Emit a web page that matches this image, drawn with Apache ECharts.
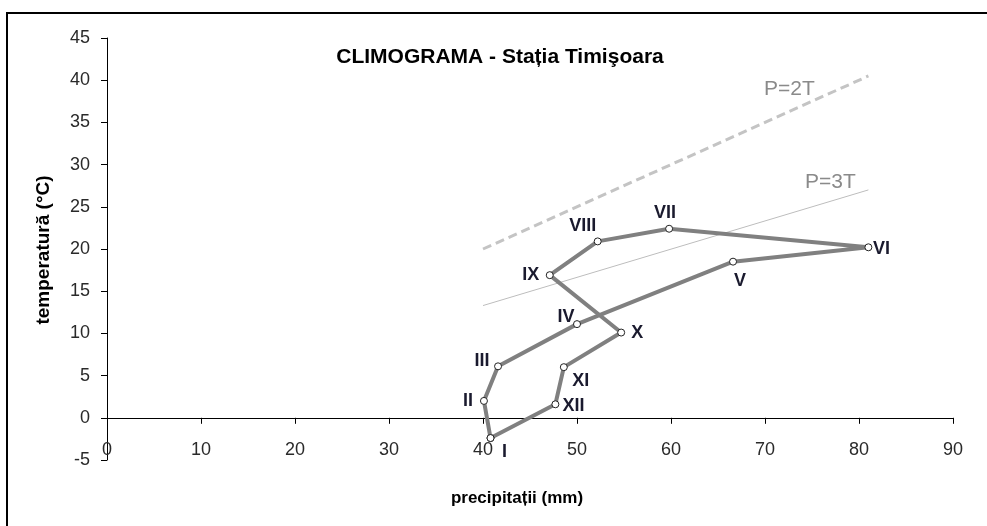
<!DOCTYPE html>
<html>
<head>
<meta charset="utf-8">
<script src="https://cdn.jsdelivr.net/npm/echarts@6/dist/echarts.min.js"></script>
<style>html,body{margin:0;padding:0;background:#fff}#c{width:987px;height:526px}</style>
</head>
<body>
<div id="c"></div>
<script>
// Data
var months = ['I','II','III','IV','V','VI','VII','VIII','IX','X','XI','XII'];
var precip = [40.8, 40.1, 41.6, 50.0, 66.6, 81.0, 59.8, 52.2, 47.1, 54.7, 48.6, 47.7];
var temp   = [-2.4, 2.0, 6.1, 11.1, 18.5, 20.2, 22.4, 20.9, 16.9, 10.1, 6.0, 1.6];
var refP   = [40, 81];
var p2tT   = [20, 40.5];
var p3tT   = [13.3, 27];
var xTicks = [0, 10, 20, 30, 40, 50, 60, 70, 80, 90];
var yTicks = [-5, 0, 5, 10, 15, 20, 25, 30, 35, 40, 45];

// label offsets (style only)
var labelOffsets = [[14,14],[-16,0],[-16,-5],[-11,-7],[7,19],[13,2],[-4,-16],[-15,-15],[-19,0],[16,0],[17,14],[18,2]];

var loop = [];
for (var i = 0; i <= months.length; i++) {
  var k = i % months.length;
  loop.push({
    value: [precip[k], temp[k]],
    label: i < months.length ? {show: true, formatter: months[k], offset: labelOffsets[k]} : {show: false}
  });
}

var chart = echarts.init(document.getElementById('c'));
var tickFont = {fontFamily: '"Liberation Sans Narrow", "Liberation Sans", Arial, sans-serif', fontSize: 18, color: '#2a2a2a'};
var refLabel = {fontFamily: '"Liberation Sans", Arial, sans-serif', fontSize: 21, color: '#8a8a8a', position: 'inside'};
chart.setOption({
  animation: false,
  title: {
    text: 'CLIMOGRAMA - Stația Timişoara',
    left: 495, top: 42, textAlign: 'center',
    textStyle: {fontFamily: '"Liberation Sans", Arial, sans-serif', fontSize: 21, fontWeight: 'bold', color: '#000'}
  },
  grid: {left: 107, right: 34, top: 38, bottom: 66, containLabel: false},
  xAxis: {
    type: 'value', min: xTicks[0], max: xTicks[xTicks.length-1], interval: 10,
    axisLine: {show: true, onZero: true, lineStyle: {color: '#000', width: 1}},
    axisTick: {show: true, length: 6, lineStyle: {color: '#000'}},
    axisLabel: Object.assign({margin: -19}, tickFont),
    splitLine: {show: false}
  },
  yAxis: {
    type: 'value', min: yTicks[0], max: yTicks[yTicks.length-1], interval: 5,
    axisLine: {show: true, onZero: false, lineStyle: {color: '#000', width: 1}},
    axisTick: {show: true, length: 6, lineStyle: {color: '#000'}},
    axisLabel: Object.assign({margin: 17}, tickFont),
    splitLine: {show: false}
  },
  graphic: [
    {type: 'rect', shape: {x: 7, y: 13, width: 1000, height: 600}, style: {fill: 'none', stroke: '#000', lineWidth: 2}, silent: true},
    {type: 'text', x: 44, y: 250, rotation: Math.PI/2, style: {text: 'temperatură (°C)', font: 'bold 19px "Liberation Sans", Arial, sans-serif', fill: '#000', textAlign: 'center', textVerticalAlign: 'middle'}},
    {type: 'text', x: 517, y: 498, style: {text: 'precipitații (mm)', font: 'bold 17px "Liberation Sans", Arial, sans-serif', fill: '#000', textAlign: 'center', textVerticalAlign: 'middle'}}
  ],
  series: [
    {
      type: 'line', name: 'P=2T',
      data: [[refP[0], p2tT[0]], {value: [refP[1], p2tT[1]], label: {show: true, formatter: 'P=2T', offset: [-79, 13]}}],
      symbol: 'circle', symbolSize: 1, showAllSymbol: true, silent: true,
      itemStyle: {color: 'rgba(0,0,0,0)'},
      lineStyle: {color: '#c4c4c4', width: 3, type: [9, 5]},
      label: refLabel
    },
    {
      type: 'line', name: 'P=3T',
      data: [[refP[0], p3tT[0]], {value: [refP[1], p3tT[1]], label: {show: true, formatter: 'P=3T', offset: [-38, -8]}}],
      symbol: 'circle', symbolSize: 1, showAllSymbol: true, silent: true,
      itemStyle: {color: 'rgba(0,0,0,0)'},
      lineStyle: {color: '#bdbdbd', width: 1},
      label: refLabel
    },
    {
      type: 'line', name: 'climograma',
      data: loop,
      symbol: 'circle', symbolSize: 7, showAllSymbol: true,
      itemStyle: {color: '#fff', borderColor: '#222', borderWidth: 1},
      lineStyle: {color: '#808080', width: 4},
      label: {position: 'inside', fontFamily: '"Liberation Sans", Arial, sans-serif', fontSize: 18, fontWeight: 'bold', color: '#1a1a2e'},
      z: 5
    }
  ]
});
</script>
</body>
</html>
